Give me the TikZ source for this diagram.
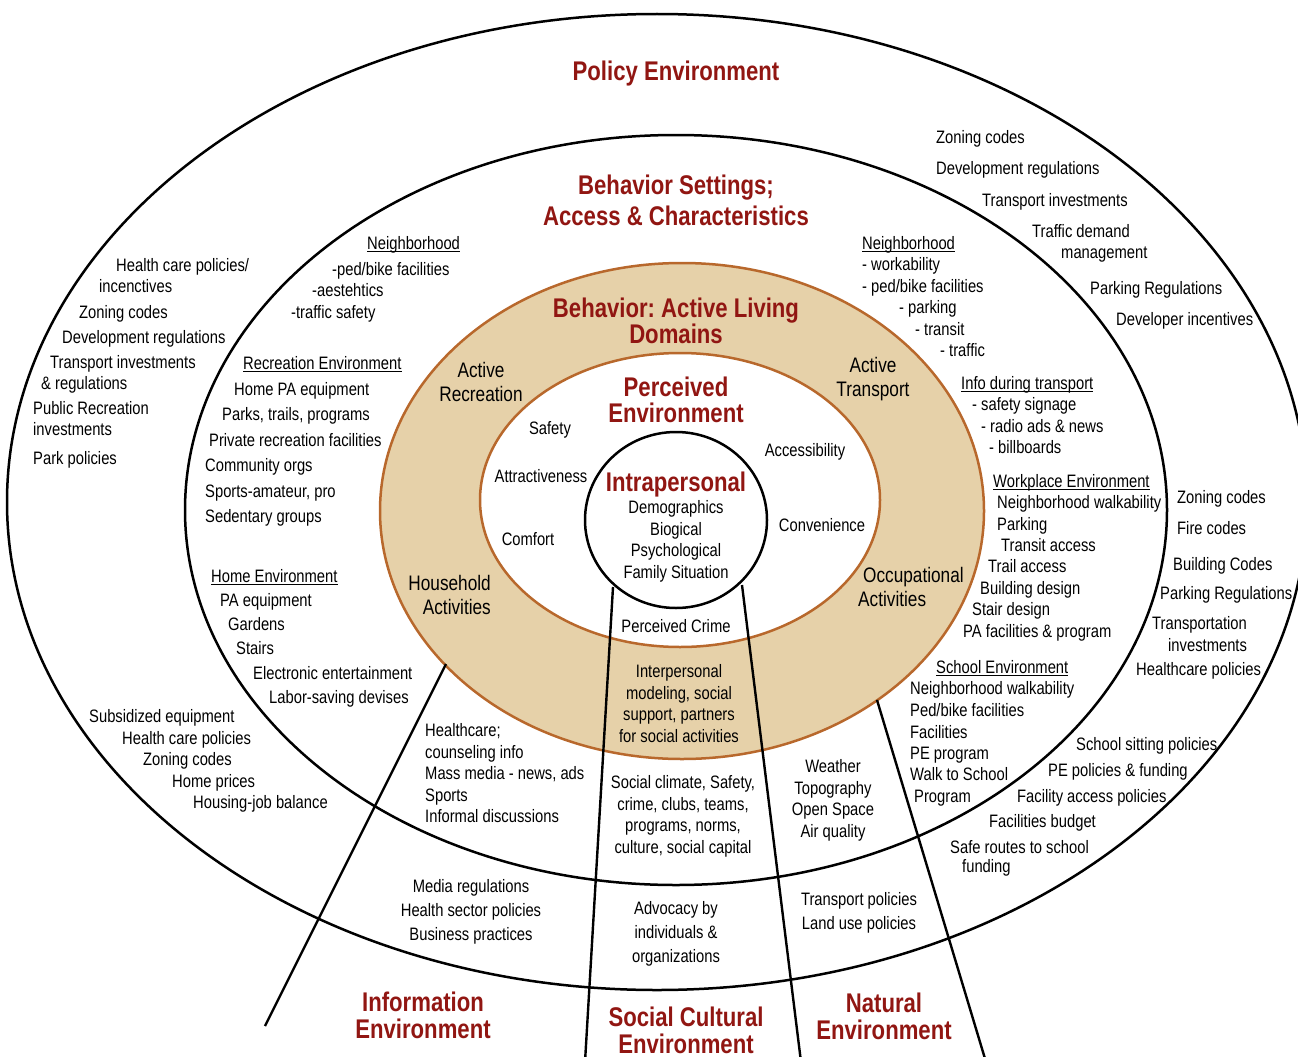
\documentclass[tikz,border=0pt]{standalone}
\usepackage{fontspec}
\setmainfont[FakeStretch=0.82]{Liberation Sans}
\usetikzlibrary{positioning}
\frenchspacing

\definecolor{titlered}{RGB}{145,22,18}
\definecolor{domaintan}{RGB}{230,209,169}
\definecolor{domainedge}{RGB}{184,104,44}

% underlined sub-heading inside the settings ring
\newcommand{\ulhead}[1]{\setbox0\hbox{#1}\rlap{\rule[-2.6pt]{\wd0}{1.3pt}}\box0}

\tikzset{
  ring/.style={draw=black, line width=2.5pt},
  domainring/.style={draw=domainedge, line width=2.5pt},
  divider/.style={draw=black, line width=2.4pt},
  leveltitle/.style={font=\fontsize{27}{27}\selectfont\bfseries, text=titlered, align=center, inner sep=0pt, yshift=-1.5pt},
  domainlabel/.style={font=\fontsize{21}{24}\selectfont, inner sep=0pt, yshift=-1.5pt},
  factor/.style={font=\fontsize{18}{21.5}\selectfont, align=center, inner sep=0pt, yshift=-1.5pt},
  spaced/.style={font=\fontsize{18}{24}\selectfont},
  item/.style={font=\fontsize{18}{21.5}\selectfont, anchor=west, inner sep=0pt, text height=12pt, text depth=3.5pt, yshift=-2pt},
}

\begin{document}
\begin{tikzpicture}[x=1pt, y=-1pt]
\useasboundingbox (0,0) rectangle (1298,1057);
\clip (0,0) rectangle (1298,1057);

% the nested levels
\draw[ring] (657,502) ellipse [x radius=650pt, y radius=488pt];
\draw[ring] (676,510) ellipse [x radius=491pt, y radius=375pt];
\draw[domainring, fill=domaintan] (682,511) ellipse [x radius=302pt, y radius=248pt];
\draw[domainring, fill=white] (680,500) ellipse [x radius=200pt, y radius=147pt];

% sector dividers
\coordinate (info-in) at (446,664);
\coordinate (info-out) at (265,1026);
\coordinate (soc-in) at (613,587);
\coordinate (soc-out) at (585,1062);
\coordinate (nat-in) at (742,585);
\coordinate (nat-out) at (801,1062);
\coordinate (school-in) at (877,700);
\coordinate (school-out) at (986,1062);
\draw[divider] (info-in) -- (info-out);
\draw[divider] (soc-in) -- (soc-out);
\draw[divider] (nat-in) -- (nat-out);
\draw[divider] (school-in) -- (school-out);

% intrapersonal core
\draw[ring, fill=white] (676,520) ellipse [x radius=91pt, y radius=88pt];

% level titles
\node[leveltitle] (policy) at (676,72) {Policy Environment};
\node[leveltitle, font=\fontsize{27}{31.5}\selectfont\bfseries] (settings) at (676,199) {Behavior Settings;\\Access \& Characteristics};
\node[leveltitle, font=\fontsize{27}{25}\selectfont\bfseries] (behavior) at (676,319) {Behavior: Active Living\\Domains};
\node[leveltitle, font=\fontsize{27}{26}\selectfont\bfseries] (perceived) at (676,398) {Perceived\\Environment};
\node[leveltitle] (intra) at (676,483) {Intrapersonal};
\node[leveltitle] (information) at (423,1014) {Information\\Environment};
\node[leveltitle] (social) at (686,1029) {Social Cultural\\Environment};
\node[leveltitle] (natural) at (884,1015) {Natural\\Environment};

% active living domains
\node[domainlabel, align=center] (actrec) at (481,380) {Active\\Recreation};
\node[domainlabel, align=center] (acttrans) at (873,378) {Active\\Transport};
\node[domainlabel, align=right, anchor=east] (household) at (491,593) {Household\\Activities};
\node[domainlabel, align=left, anchor=west] (occup) at (858,585) {\hspace*{5pt}Occupational\\Activities};

% perceived environment
\node[factor] (safety) at (550,428) {Safety};
\node[factor] (attract) at (541,475) {Attractiveness};
\node[factor] (comfort) at (528,538) {Comfort};
\node[factor] (access) at (805,450) {Accessibility};
\node[factor] (conven) at (822,524) {Convenience};
\node[factor] (crime) at (676,625) {Perceived Crime};

% intrapersonal and social sectors
\node[factor] (intradet) at (676,540) {Demographics\\Biogical\\Psychological\\Family Situation};
\node[factor] (interp) at (679,702) {Interpersonal\\modeling, social\\support, partners\\for social activities};
\node[factor] (socset) at (683,815) {Social climate, Safety,\\crime, clubs, teams,\\programs, norms,\\culture, social capital};
\node[factor, spaced] (socpol) at (676,932) {Advocacy by\\individuals \&\\organizations};

% information sector
\node[factor, align=left, anchor=west] (infoset) at (425,772) {Healthcare;\\counseling info\\Mass media - news, ads\\Sports\\Informal discussions};
\node[factor, spaced] (infopol) at (471,910) {Media regulations\\Health sector policies\\Business practices};

% natural sector
\node[factor] (natset) at (833,799) {Weather\\Topography\\Open Space\\Air quality};
\node[factor, spaced] (natpol) at (859,911) {Transport policies\\Land use policies};

% behavior settings, left side
\foreach \x/\y/\t [count=\i] in {
  367/243/\ulhead{Neighborhood},
  332/269/-ped\slash bike facilities,
  312/290/-aestehtics,
  291/312/-traffic safety,
  243/363/\ulhead{Recreation Environment},
  234/389/Home PA equipment,
  222/414/{Parks, trails, programs},
  209/440/Private recreation facilities,
  205/465/Community orgs,
  205/491/{Sports-amateur, pro},
  205/516/Sedentary groups,
  211/576/\ulhead{Home Environment},
  220/600/PA equipment,
  228/624/Gardens,
  236/648/Stairs,
  253/673/Electronic entertainment,
  269/697/Labor-saving devises}
  \node[item] (setw-\i) at (\x,\y) {\t};

% behavior settings, right side
\foreach \x/\y/\t [count=\i] in {
  862/243/\ulhead{Neighborhood},
  862/264/- workability,
  862/286/- ped\slash bike facilities,
  899/307/- parking,
  915/329/- transit,
  940/350/- traffic,
  961/383/\ulhead{Info during transport},
  972/404/- safety signage,
  981/426/- radio ads \& news,
  989/447/- billboards,
  993/481/\ulhead{Workplace Environment},
  997/502/Neighborhood walkability,
  997/524/Parking,
  1001/545/Transit access,
  988/566/Trail access,
  980/588/Building design,
  972/609/Stair design,
  963/631/PA facilities \& program,
  936/667/\ulhead{School Environment},
  910/688/Neighborhood walkability,
  910/710/Ped\slash bike facilities,
  910/732/Facilities,
  910/753/PE program,
  910/774/Walk to School,
  914/796/Program}
  \node[item] (sete-\i) at (\x,\y) {\t};

% policy environment, left side
\foreach \x/\y/\t [count=\i] in {
  116/265/Health care policies\slash,
  99/286/incenctives,
  79/312/Zoning codes,
  62/337/Development regulations,
  50/362/Transport investments,
  41/383/\& regulations,
  33/408/Public Recreation,
  33/429/investments,
  33/458/Park policies,
  89/716/Subsidized equipment,
  122/738/Health care policies,
  143/759/Zoning codes,
  172/781/Home prices,
  193/802/Housing-job balance}
  \node[item] (polw-\i) at (\x,\y) {\t};

% policy environment, right side
\foreach \x/\y/\t [count=\i] in {
  936/137/Zoning codes,
  936/168/Development regulations,
  982/200/Transport investments,
  1032/231/Traffic demand,
  1061/252/management,
  1090/288/Parking Regulations,
  1116/319/Developer incentives,
  1177/497/Zoning codes,
  1177/528/Fire codes,
  1173/564/Building Codes,
  1160/593/Parking Regulations,
  1152/623/Transportation,
  1168/645/investments,
  1136/669/Healthcare policies,
  1076/744/School sitting policies,
  1048/770/PE policies \& funding,
  1017/796/Facility access policies,
  989/821/Facilities budget,
  950/847/Safe routes to school,
  962/866/funding}
  \node[item] (pole-\i) at (\x,\y) {\t};
\end{tikzpicture}
\end{document}
